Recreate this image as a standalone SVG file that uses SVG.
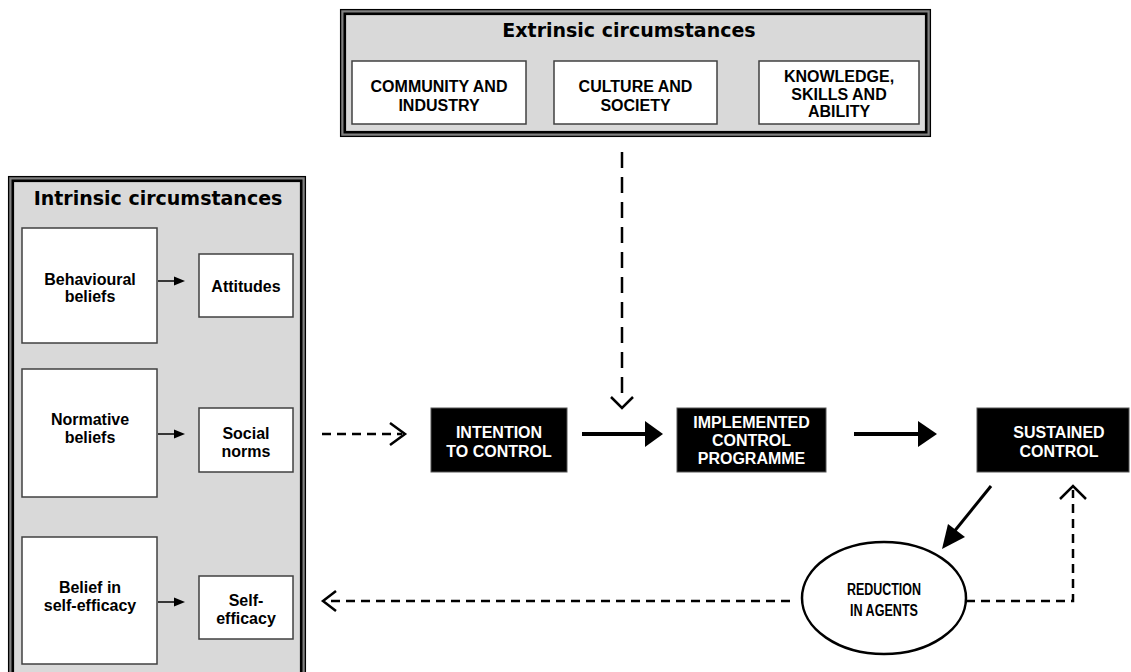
<svg xmlns="http://www.w3.org/2000/svg" width="1131" height="672" viewBox="0 0 1131 672">
<style>
.panel{fill:#d9d9d9}
.band{fill:none;stroke:#808080;stroke-width:6}
.thin{fill:none;stroke:#000;stroke-width:1.3}
.thick{fill:none;stroke:#000;stroke-width:2.6}
.box{fill:#fff;stroke:#404040;stroke-width:1.5}
.dark{fill:#000;stroke:#555;stroke-width:1}
.title{font-family:"DejaVu Sans",Verdana,sans-serif;font-weight:bold;font-size:19px;fill:#000;text-anchor:middle}
.lbl{font-family:"Liberation Sans",Arial,sans-serif;font-weight:bold;font-size:16px;fill:#000;text-anchor:middle}
.wl{font-family:"Liberation Sans",Arial,sans-serif;font-weight:bold;font-size:16px;fill:#fff;text-anchor:middle}
.nar{font-family:"Liberation Sans Narrow","Liberation Sans",Arial,sans-serif;font-weight:bold;font-size:16px;fill:#000;text-anchor:middle}
.sm{stroke:#000;stroke-width:1.5;fill:none}
.solid{stroke:#000;stroke-width:4;fill:none}
.dash{stroke:#000;stroke-width:2.5;fill:none;stroke-dasharray:9 6}
.chev{stroke:#000;stroke-width:2.5;fill:none}
</style>

<g id="extrinsic">
<rect class="panel" x="340" y="9" width="591" height="128"/>
<rect class="band" x="343" y="12" width="585" height="122"/>
<rect class="thin" x="340.6" y="9.6" width="589.8" height="126.8"/>
<rect class="thick" x="344.8" y="13.8" width="581.4" height="118.4"/>
<text class="title" x="629" y="37">Extrinsic circumstances</text>
</g>
<g id="community">
<rect class="box" x="352" y="61" width="174" height="63"/>
<text class="lbl" x="439" y="91.5">COMMUNITY AND</text>
<text class="lbl" x="439" y="110.5">INDUSTRY</text>
</g>
<g id="culture">
<rect class="box" x="554" y="61" width="163" height="63"/>
<text class="lbl" x="635.5" y="91.5">CULTURE AND</text>
<text class="lbl" x="635.5" y="110.5">SOCIETY</text>
</g>
<g id="knowledge">
<rect class="box" x="759" y="61" width="160" height="63"/>
<text class="lbl" x="839" y="82">KNOWLEDGE,</text>
<text class="lbl" x="839" y="99.5">SKILLS AND</text>
<text class="lbl" x="839" y="117">ABILITY</text>
</g>

<g id="intrinsic">
<rect class="panel" x="8" y="176" width="298" height="520"/>
<rect class="band" x="11" y="179" width="292" height="514"/>
<rect class="thin" x="8.6" y="176.6" width="296.8" height="518.8"/>
<rect class="thick" x="12.8" y="180.8" width="288.4" height="510.4"/>
<text class="title" x="158" y="205">Intrinsic circumstances</text>
</g>
<g id="behavioural-beliefs">
<rect class="box" x="22" y="228" width="135" height="115"/>
<text class="lbl" x="90" y="285">Behavioural</text>
<text class="lbl" x="90" y="302">beliefs</text>
</g>
<g id="attitudes">
<rect class="box" x="199" y="254" width="94" height="63"/>
<text class="lbl" x="246" y="292">Attitudes</text>
</g>
<g id="normative-beliefs">
<rect class="box" x="22" y="369" width="135" height="128"/>
<text class="lbl" x="90" y="425">Normative</text>
<text class="lbl" x="90" y="443">beliefs</text>
</g>
<g id="social-norms">
<rect class="box" x="199" y="408" width="94" height="64"/>
<text class="lbl" x="246" y="439">Social</text>
<text class="lbl" x="246" y="457">norms</text>
</g>
<g id="belief-self-efficacy">
<rect class="box" x="22" y="537" width="135" height="127"/>
<text class="lbl" x="90" y="593">Belief in</text>
<text class="lbl" x="90" y="611">self-efficacy</text>
</g>
<g id="self-efficacy">
<rect class="box" x="199" y="576" width="94" height="63"/>
<text class="lbl" x="246" y="606">Self-</text>
<text class="lbl" x="246" y="624">efficacy</text>
</g>

<g id="intention">
<rect class="dark" x="431" y="408" width="136" height="64"/>
<text class="wl" x="499" y="438">INTENTION</text>
<text class="wl" x="499" y="457">TO CONTROL</text>
</g>
<g id="implemented">
<rect class="dark" x="677" y="408" width="149" height="64"/>
<text class="wl" x="751.5" y="428">IMPLEMENTED</text>
<text class="wl" x="751.5" y="446">CONTROL</text>
<text class="wl" x="751.5" y="464">PROGRAMME</text>
</g>
<g id="sustained">
<rect class="dark" x="977" y="408" width="152" height="64"/>
<text class="wl" x="1059" y="438">SUSTAINED</text>
<text class="wl" x="1059" y="457">CONTROL</text>
</g>
<g id="reduction">
<ellipse cx="884" cy="598" rx="82" ry="56" fill="#fff" stroke="#000" stroke-width="2.5"/>
<text class="nar" x="884" y="595" textLength="74" lengthAdjust="spacingAndGlyphs">REDUCTION</text>
<text class="nar" x="884" y="616" textLength="68" lengthAdjust="spacingAndGlyphs">IN AGENTS</text>
</g>

<g id="connectors">
<line class="sm" x1="158" y1="281" x2="176" y2="281"/>
<polygon points="174,276.5 185,281 174,285.5"/>
<line class="sm" x1="158" y1="434" x2="176" y2="434"/>
<polygon points="174,429.5 185,434 174,438.5"/>
<line class="sm" x1="158" y1="602" x2="176" y2="602"/>
<polygon points="174,597.5 185,602 174,606.5"/>

<line class="dash" x1="322" y1="434" x2="402" y2="434"/>
<polyline class="chev" points="390,423 405,434 390,445"/>

<line class="dash" x1="622" y1="152" x2="622" y2="395" style="stroke-dasharray:16 9"/>
<polyline class="chev" points="611,397 622,408 633,397"/>

<line class="solid" x1="582" y1="434" x2="648" y2="434"/>
<polygon points="645,421 663,434 645,447"/>
<line class="solid" x1="854" y1="434" x2="920" y2="434"/>
<polygon points="918,421 937,434 918,447"/>

<line class="solid" x1="991" y1="486" x2="953" y2="533" style="stroke-width:3"/>
<polygon points="942,549 948,524 965,537"/>

<polyline class="dash" points="966,601 1073,601 1073,490"/>
<polyline class="chev" points="1060,499 1073,486 1086,499"/>

<line class="dash" x1="790" y1="601" x2="326" y2="601"/>
<polyline class="chev" points="336,591 323,601 336,611"/>
</g>
</svg>
